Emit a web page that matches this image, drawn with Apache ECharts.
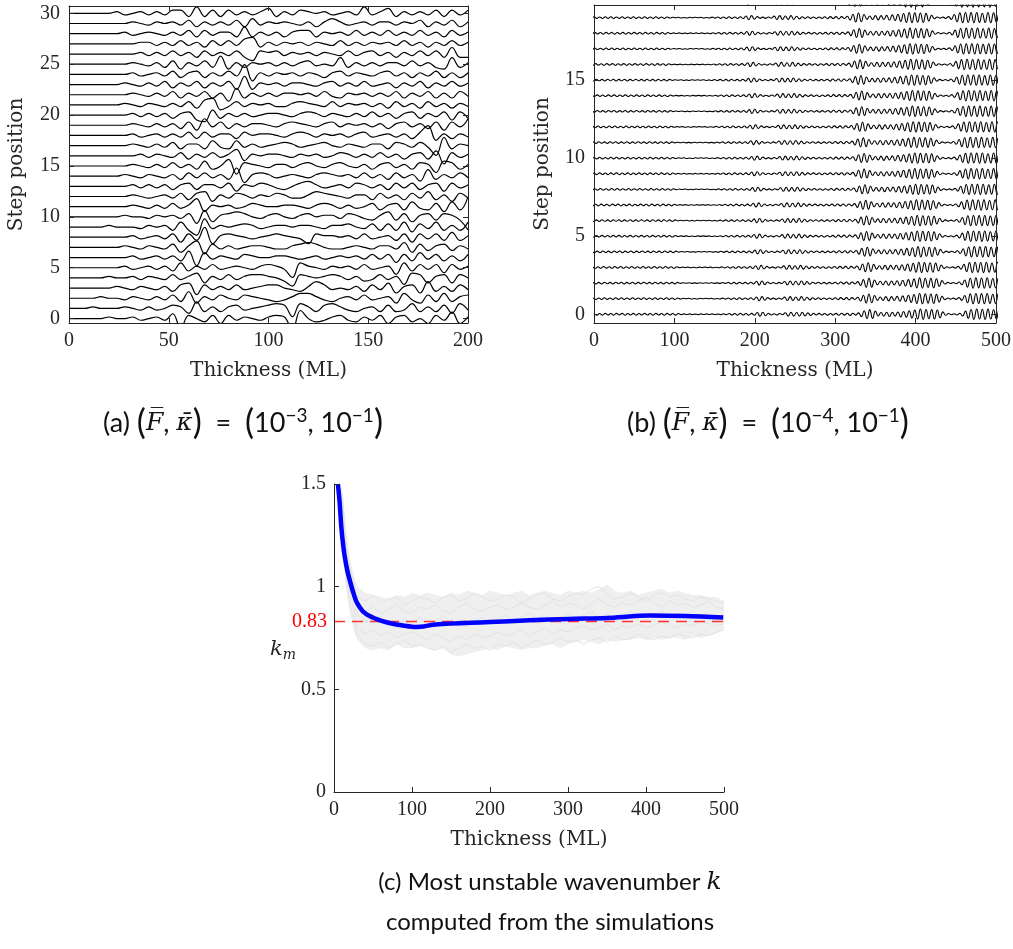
<!DOCTYPE html>
<html><head><meta charset="utf-8">
<script src="https://cdn.jsdelivr.net/npm/echarts@6/dist/echarts.min.js"></script>
<style>html,body{margin:0;padding:0;background:#fff}#c{width:1013px;height:949px}</style>
</head><body><div id="c"></div>
<script>
// ---------- Panel (a): step deviations, one sample every 4 ML (0..200), unit 0.16 step ----------
const aStep = 4, aUnit = 0.16;
const a00 = [0,0,0,0,0,1,0,0,1,-1, 0,1,-1,3,-6,2,0,-2,2,-3, 2,-1,1,0,-1,1,2,1,-7,5, 0,-2,-1,1,2,-1,-2,1,-1,2, -3,1,2,-2,0,-3,2,-1,4,-3, 1];
const a01 = [0,0,0,1,0,0,0,1,0,-1, 1,-1,0,2,1,-3,4,-2,1,-2, 1,2,-1,0,1,2,3,2,-5,3, 1,-2,2,3,1,-1,-2,0,1,-2, 2,-2,-1,3,-2,1,-2,2,-3,3, -1];
const a02 = [0,0,0,0,1,0,0,-1,1,0, -1,1,-1,2,-2,4,-3,1,-1,2, 0,-1,2,1,0,-1,-2,-1,1,3, 3,1,-1,-2,0,1,-1,2,-1,0, 1,-3,3,-1,-3,2,-2,3,-2,1, 2];
const a03 = [0,0,0,0,0,0,1,0,-1,1, 0,-1,1,-2,2,3,-4,2,-1,1, -1,2,-1,0,1,2,2,0,-1,-2, 1,4,2,-1,0,-1,1,-2,2,-1, 3,-3,1,2,-3,4,-2,1,-2,2, -1];
const a04 = [0,0,0,0,0,1,0,0,1,-1, 1,0,-1,2,-1,1,3,-3,1,-1, 2,-1,1,2,2,1,0,-2,-5,2, 1,0,1,2,1,-1,1,-2,-1,2, -1,1,-4,3,2,-3,1,2,-3,2, 0];
const a05 = [0,0,0,0,0,0,0,1,-1,0, 1,-1,1,-2,3,-2,1,-1,2,-1, 0,1,0,-1,1,2,1,-1,-6,3, 1,0,-1,1,0,1,-1,2,-1,0, 1,-4,3,-2,2,-1,2,-3,2,-1, 1];
const a06 = [0,0,0,0,0,0,0,0,1,-1, 0,1,-1,1,-2,4,-5,3,-1,1, 0,-1,2,1,0,0,1,1,0,-1, 0,1,-1,0,1,0,1,-1,2,-1, 2,-3,2,-2,3,-1,2,-2,1,-2, 2];
const a07 = [0,0,0,0,0,0,0,1,0,-1, 1,0,-1,2,-3,1,4,-4,2,-1, 1,-1,0,1,1,0,-1,-1,1,2, 3,2,0,-1,-1,0,1,0,-1,1, 1,-1,3,-3,2,-2,1,2,-2,1, -1];
const a08 = [0,0,0,0,0,0,0,0,1,-1, 0,1,-1,2,-3,2,-2,6,-4,1, 2,1,0,-1,0,1,2,1,0,-1, -4,2,1,1,0,1,-1,2,-1,0, 1,-2,2,-3,2,-1,2,-2,3,-2, 1];
const a09 = [0,0,0,0,0,1,0,0,0,-1, 1,0,1,-2,3,-2,-5,5,-1,1, 0,1,2,1,-1,0,1,1,0,1, 1,0,-1,1,1,2,0,-1,2,-2, 2,-2,3,-3,2,-1,3,-2,1,-2, 3];
const a10 = [0,0,0,0,0,0,0,1,0,0, -1,1,0,1,-1,2,-4,4,-3,1, 2,3,2,0,-1,1,2,0,-1,1, 2,0,1,1,-1,2,1,-1,-2,1, 3,-2,2,-3,1,2,-2,2,1,-2, -8];
const a11 = [0,0,0,0,0,0,0,0,1,0, -1,1,-1,2,-1,1,5,-3,1,0, 1,-1,0,2,1,0,0,1,1,0, -1,1,2,1,-1,1,-1,0,2,-2, 1,2,-2,3,-1,-2,2,-3,3,-2, 6];
const a12 = [0,0,0,0,0,0,0,0,1,0, -1,0,1,-1,2,-2,2,3,-3,1, -1,2,1,-1,1,0,2,1,-1,-1, 1,3,2,1,0,-1,1,1,-2,2, -1,1,-2,2,-1,3,-2,1,-3,2, -1];
const a13 = [0,0,0,0,0,0,0,0,1,-1, 1,-1,1,-2,1,2,-2,1,1,-1, 2,-3,1,0,2,1,-1,-2,0,2, 3,1,-1,0,1,-1,2,1,-1,1, -2,2,-1,2,-2,1,2,-3,2,-1, 1];
const a14 = [0,0,0,0,0,0,0,1,0,-1, 1,0,-1,1,-2,2,-1,2,-1,1, -2,5,-4,1,2,1,-1,0,1,0, -1,1,2,1,0,1,-1,2,-1,1, -2,2,-1,1,-3,4,-2,1,-1,2, -1];
const a15 = [0,0,0,0,0,0,0,0,1,0, -1,1,-1,2,-1,1,-2,3,-2,0, 4,-5,2,1,0,-1,1,1,-1,1, 2,0,-1,1,2,0,-1,1,-2,1, 2,-1,1,-2,2,1,-4,3,2,-2, 1];
const a16 = [0,0,0,0,0,0,0,0,0,1, -1,1,0,-1,2,-2,1,-1,2,-1, 1,4,-3,1,0,1,1,0,-1,1, 0,1,-1,0,2,1,-1,1,-1,2, -1,1,-2,1,2,-2,3,-5,2,-1, 1];
const a17 = [0,0,0,0,0,0,0,0,1,0, -1,1,-1,2,-2,1,1,-2,3,-1, -2,3,-1,1,-1,0,1,2,1,-1, 0,1,2,0,-1,1,0,-1,1,1, -2,2,1,-1,2,-1,-6,5,-2,1, 0];
const a18 = [0,0,0,0,0,0,0,0,1,-1, 0,1,-1,1,-1,2,-2,2,-1,1, 1,-2,2,0,1,1,0,-1,1,2, 1,-1,1,0,1,-1,1,2,-1,0, 1,-1,1,-2,2,6,-3,1,-2,1, -1];
const a19 = [0,0,0,0,0,0,0,0,1,0, -1,1,-1,1,-2,2,-3,4,-1,2, -2,1,-1,1,1,0,-1,1,2,1, 0,-1,1,2,-1,1,0,1,-1,1, -2,1,2,-1,1,-2,2,-3,2,-1, 4];
const a20 = [0,0,0,0,0,0,0,0,1,-1, 1,-1,1,-2,1,2,-3,-4,3,-2, 1,-1,1,-1,0,1,1,0,-1,1, 2,1,-1,1,0,-1,1,-1,2,-1, 1,-2,1,2,-2,1,-1,2,-3,2, -2];
const a21 = [0,0,0,0,0,0,0,1,0,-1, 1,0,-1,1,-1,2,-2,3,4,-3, -1,2,-1,1,0,1,-1,-1,1,2, 1,0,-1,2,-1,1,0,1,-1,1, -2,2,-1,1,-2,2,-1,1,-2,1, -1];
const a22 = [0,0,0,0,0,0,0,0,1,0, -1,1,-1,2,-2,1,-1,2,-2,1, -4,4,-2,1,-1,1,-1,1,1,0, 1,-1,2,-1,-2,1,0,1,-1,1, -1,2,-2,1,-1,2,-2,1,-2,2, -1];
const a23 = [0,0,0,0,0,0,0,1,0,-1, 1,-1,2,-2,1,-1,2,-2,1,-1, 2,-3,5,-3,1,0,1,-1,1,1, 0,-1,1,2,-1,1,-1,2,-1,0, 1,-2,1,-1,2,-2,1,-1,2,-1, 1];
const a24 = [0,0,0,0,0,0,0,0,1,-1, 0,1,-1,2,-2,1,2,-2,1,-1, 2,-1,6,-4,1,-1,1,0,1,-1, 1,0,-2,1,2,-1,1,0,-1,1, 2,-1,1,-2,1,-1,2,-2,1,-2, 1];
const a25 = [0,0,0,0,0,0,0,0,1,0, -1,1,-2,2,-3,1,-1,2,-2,5, -3,1,-2,1,0,1,-1,1,-1,1, 2,-1,0,-1,4,-2,1,-1,1,-1, 1,1,-1,2,-1,1,-2,-3,4,-2, 1];
const a26 = [0,0,0,0,0,0,0,0,0,1, -1,1,-1,2,-1,1,-2,2,-1,1, -1,2,-2,-4,2,1,2,-1,1,0, 1,-1,1,0,-1,2,-1,1,2,-1, 1,-2,1,-1,2,-1,2,-2,4,-2, -2];
const a27 = [0,0,0,0,0,0,0,0,0,1, 1,-1,1,-1,2,-1,1,-2,2,-1, 2,-1,3,4,-2,1,-1,1,0,1, -1,1,0,-1,2,-1,1,-1,1,0, 1,-1,2,-1,1,-2,1,-1,2,-1, 1];
const a28 = [0,0,0,0,0,0,0,1,-1,0, 1,0,-1,1,-1,2,-2,2,-1,1, 1,-2,4,-2,1,-1,1,-2,1,2, 2,-2,1,0,1,-1,2,-1,1,-1, 2,-1,1,-1,2,-1,1,-2,2,-1, 1];
const a29 = [0,0,0,0,0,0,0,0,1,0, -1,1,0,1,-1,2,-2,1,-1,1, -1,2,-2,3,-1,1,0,1,0,-1, 1,-2,1,3,1,-1,0,1,-1,1, 1,-1,1,0,2,-2,1,-1,2,-2, 1];
const a30 = [0,0,0,0,0,0,1,-1,0,1, -1,1,-1,2,2,-2,4,-2,2,-2, 2,-1,1,-1,1,3,-2,1,-1,2, 1,0,1,-1,0,1,-1,4,-1,1, 3,-2,1,-1,1,-1,2,-2,2,-1, 2];
const aLines = [a00,a01,a02,a03,a04,a05,a06,a07,a08,a09,a10,a11,a12,a13,a14,a15,a16,a17,a18,a19,a20,a21,a22,a23,a24,a25,a26,a27,a28,a29,a30];
const aXTicks = [0,50,100,150,200];
const aYTicks = [0,5,10,15,20,25,30];

// ---------- Panel (b): wave extremes every 3.5 ML (unit 0.011 step), per-line shift in ML ----------
const bStep = 3.5, bUnit = 0.011;
const bWave = [4,-5,4,-5,5,-4,4,-5,5,-4, 5,-5,4,-4,5,-5,4,-4,5,-4, 4,-5,5,-4,4,-5,5,-4,4,-5,
  4,-2,2,-1,2,-2,1,-2,2,-1, 2,-1,2,-2,1,-2,3,-3,4,-4, 4,-5,5,-4,4,-5,5,-6,10,-12,
  12,-9,6,-4,3,-4,4,-3,9,-11, 12,-11,10,-11,12,-10,8,-7,5,-4, 5,-4,4,-5,4,-4,5,-6,6,-5,
  6,-7,6,-5,8,-14,20,-25,27,-24, 18,-10,10,-11,12,-13,12,-11,13,-15, 16,-18,20,-22,24,-28,30,-30,28,-26,
  27,-28,25,-20,14,-6,4,-3,3,-4, 6,-10,18,-24,28,-30,30,-28,29,-30, 30,-28,26,-28,30,-30,28,-26,26,-24, 24];
const bShift = [0,-1,-1,-2,-3,-4,-4,-5,-6,-7,-7,-8,-9,-10,-10,-11,-12,-13,-13,-14,-15];
const bXTicks = [0,100,200,300,400,500];
const bYTicks = [0,5,10,15];

// ---------- Panel (c) ----------
const cBlueX = [5,7,9.4,11.5,13.7,17,20,24,28.6,33,37,45,54,62,71,80,90,100,106,115,127,148,175,200,250,302,350,405,450,499];
const cBlueY = [1.5,1.42,1.29,1.21,1.148,1.08,1.034,0.98,0.928,0.9,0.88,0.858,0.843,0.832,0.823,0.816,0.81,0.805,0.804,0.806,0.815,0.82,0.824,0.828,0.836,0.843,0.848,0.859,0.857,0.85];
const cGrayX = [10,15,20,25,30,40,50,60,70,80,90,100,110,120,130,140,150,160,170,180,190,200,210,220,230,240,250,260,270,280,290,300,310,320,330,340,350,360,370,380,390,400,410,420,430,440,450,460,470,480,490,500];
const cBandUpper = [1.5,1.3,1.15,1.06, 1.0,0.97,0.96,0.95,0.94,0.96,0.95,0.97,0.96,0.97, 0.96,0.95,0.97,0.96,0.98,0.97,0.96,0.98,0.97,0.96, 0.97,0.98,0.96,0.97,0.98,0.97,0.96,0.98,0.97,0.98, 0.97,0.99,1.01,0.98,0.97,0.98,0.96,0.97,0.98,0.99, 0.97,0.98,0.97,0.96,0.96,0.95,0.95,0.93];
const cBandLower = [1.25,1.0,0.88,0.79, 0.74,0.7,0.69,0.7,0.69,0.72,0.7,0.7,0.71,0.7, 0.69,0.7,0.67,0.66,0.67,0.68,0.69,0.7,0.69,0.71, 0.7,0.69,0.7,0.7,0.71,0.72,0.7,0.72,0.73,0.74, 0.73,0.72,0.74,0.73,0.74,0.74,0.75,0.74,0.75,0.74, 0.75,0.75,0.74,0.76,0.75,0.76,0.77,0.79];
const cGray1 = [1.42,1.2,1.1,1.02, 0.95,0.93,0.96,0.92,0.94,0.95,0.91,0.93,0.95,0.94, 0.92,0.95,0.96,0.93,0.94,0.97,0.95,0.93,0.94,0.96, 0.95,0.92,0.94,0.96,0.97,0.94,0.93,0.95,0.97,0.96, 0.99,1.0,0.96,0.94,0.95,0.97,0.95,0.93,0.96,0.97, 0.95,0.96,0.94,0.93,0.95,0.94,0.93,0.92];
const cGray2 = [1.3,1.05,0.92,0.84, 0.76,0.72,0.71,0.73,0.7,0.72,0.74,0.71,0.72,0.7, 0.69,0.71,0.68,0.7,0.72,0.7,0.71,0.69,0.72,0.71, 0.73,0.7,0.72,0.74,0.72,0.73,0.75,0.73,0.74,0.72, 0.74,0.75,0.73,0.76,0.74,0.75,0.77,0.75,0.74,0.76, 0.75,0.77,0.76,0.75,0.77,0.76,0.78,0.79];
const cGray3 = [1.45,1.15,1.03,0.96, 0.9,0.88,0.9,0.87,0.89,0.91,0.88,0.87,0.9,0.89, 0.91,0.88,0.87,0.9,0.92,0.89,0.88,0.9,0.91,0.89, 0.9,0.92,0.9,0.89,0.91,0.93,0.9,0.92,0.91,0.89, 0.92,0.94,0.91,0.9,0.92,0.91,0.93,0.95,0.92,0.9, 0.93,0.91,0.92,0.9,0.91,0.93,0.9,0.89];
const cGray4 = [1.35,1.1,0.98,0.9, 0.8,0.77,0.79,0.76,0.78,0.75,0.77,0.78,0.76,0.74, 0.77,0.75,0.73,0.76,0.74,0.77,0.75,0.76,0.78,0.76, 0.77,0.79,0.76,0.78,0.8,0.77,0.79,0.78,0.8,0.81, 0.79,0.8,0.82,0.79,0.81,0.8,0.82,0.8,0.81,0.83, 0.81,0.8,0.82,0.81,0.83,0.82,0.81,0.82];
const cGray5 = [1.48,1.25,1.08,0.99, 0.86,0.84,0.82,0.85,0.83,0.8,0.84,0.82,0.85,0.81, 0.83,0.86,0.82,0.84,0.8,0.83,0.85,0.82,0.84,0.86, 0.83,0.85,0.87,0.84,0.86,0.83,0.85,0.87,0.84,0.86, 0.88,0.85,0.87,0.84,0.86,0.88,0.85,0.87,0.86,0.88, 0.85,0.87,0.86,0.88,0.86,0.87,0.85,0.86];
const cGrayLines = [cGray1,cGray2,cGray3,cGray4,cGray5];
const cRedLevel = 0.83;
const cRedX = [0,500];
const cXTicks = [0,100,200,300,400,500];

// ---------- styles ----------
const INK = '#262626';
const tickFont = {fontFamily:'Liberation Serif', fontSize:20, color:INK};
const nameFont = {fontFamily:'DejaVu Serif', fontSize:20, color:INK};
const axLine = {show:true, onZero:false, lineStyle:{color:INK, width:1}};

function xAx(grid, min, max, ticks, pos, labels, name) {
  return {type:'value', gridIndex:grid, position:pos, min:min, max:max, z:10,
    axisLine:axLine, splitLine:{show:false},
    axisTick:{show:true, inside:true, length:5, customValues:ticks, lineStyle:{color:INK}},
    axisLabel:{show:labels, customValues:ticks, margin:8, ...tickFont, formatter:v=>String(v)},
    name: name||'', nameLocation:'middle', nameGap:38, nameTextStyle:nameFont};
}
function yAx(grid, min, max, ticks, pos, labels, name, gap) {
  return {type:'value', gridIndex:grid, position:pos, min:min, max:max, z:10,
    axisLine:axLine, splitLine:{show:false},
    axisTick:{show:true, inside:true, length:5, customValues:ticks, lineStyle:{color:INK}},
    axisLabel:{show:labels, customValues:ticks, margin:9, ...tickFont, formatter:v=>String(v)},
    name: name||'', nameLocation:'middle', nameGap:gap||40, nameRotate:90, nameTextStyle:nameFont};
}

const series = [];
aLines.forEach((dev, k) => {
  series.push({type:'line', xAxisIndex:0, yAxisIndex:0, symbol:'none', smooth:0.4, silent:true, animation:false,
    clip:true, lineStyle:{color:'#000', width:1.2},
    data: dev.map((v, i) => [i*aStep, k + v*aUnit])});
});
bShift.forEach((s, k) => {
  series.push({type:'line', xAxisIndex:2, yAxisIndex:2, symbol:'none', smooth:0.5, silent:true, animation:false,
    clip:true, lineStyle:{color:'#000', width:1.1},
    data: bWave.map((v, i) => [i*bStep + s, k + v*bUnit])});
});
// band of simulations (c): light-grey area under the upper envelope, white area under the lower envelope
series.push({type:'line', xAxisIndex:4, yAxisIndex:4, symbol:'none', silent:true, animation:false,
  lineStyle:{width:0, opacity:0}, areaStyle:{color:'#efefef', opacity:1, origin:'start'},
  data: cGrayX.map((x,i)=>[x, cBandUpper[i]]), z:1});
series.push({type:'line', xAxisIndex:4, yAxisIndex:4, symbol:'none', silent:true, animation:false,
  lineStyle:{width:0, opacity:0}, areaStyle:{color:'#ffffff', opacity:1, origin:'start'},
  data: cGrayX.map((x,i)=>[x, cBandLower[i]]), z:2});
cGrayLines.forEach((g) => {
  series.push({type:'line', xAxisIndex:4, yAxisIndex:4, symbol:'none', silent:true, animation:false,
    lineStyle:{color:'#e3e3e3', width:1}, data: cGrayX.map((x,i)=>[x, g[i]]), z:3});
});
series.push({type:'line', xAxisIndex:4, yAxisIndex:4, symbol:'none', silent:true, animation:false,
  color:'#ff3030', lineStyle:{color:'#ff3030', width:1.5, type:[11,7]},
  data: cRedX.map(x=>[x, cRedLevel]), z:4,
  markPoint:{symbol:'circle', symbolSize:0, silent:true, animation:false,
    label:{show:true, position:'left', distance:7, formatter:String(cRedLevel), color:'#ff0000',
      fontFamily:'Liberation Serif', fontSize:20},
    data:[{coord:[cRedX[0], cRedLevel]}]}});
series.push({type:'line', xAxisIndex:4, yAxisIndex:4, symbol:'none', silent:true, animation:false, smooth:0.3,
  clip:true, lineStyle:{color:'#0000ff', width:4.5}, data: cBlueX.map((x,i)=>[x, cBlueY[i]]), z:5});

const capFont = 'Lato';
const capRich = {
  t:{fontFamily:capFont, fontSize:27, fill:'#111', color:'#111'},
  c:{fontFamily:capFont, fontSize:24, fill:'#111', color:'#111'},
  p:{fontFamily:capFont, fontSize:34, fill:'#111', color:'#111'},
  i:{fontFamily:'DejaVu Serif', fontStyle:'italic', fontSize:25, fill:'#111', color:'#111'},
  s:{fontFamily:capFont, fontSize:19, fill:'#111', color:'#111', verticalAlign:'top'}
};
function capText(x, y, text) {
  return {type:'text', x:x, y:y, style:{text:text, rich:capRich, align:'center', verticalAlign:'middle',
    fontFamily:capFont, fontSize:25, fill:'#111'}};
}

const option = {
  animation:false,
  backgroundColor:'#fff',
  grid:[
    {left:69, top:6, width:399, height:317, containLabel:false, outerBoundsMode:'none', show:false},
    {left:594, top:5, width:402, height:318, containLabel:false, outerBoundsMode:'none', show:false},
    {left:334, top:484, width:390, height:308, containLabel:false, outerBoundsMode:'none', show:false}
  ],
  xAxis:[
    xAx(0, 0, 200, aXTicks, 'bottom', true, 'Thickness (ML)'),
    xAx(0, 0, 200, aXTicks, 'top', false, ''),
    xAx(1, 0, 500, bXTicks, 'bottom', true, 'Thickness (ML)'),
    xAx(1, 0, 500, bXTicks, 'top', false, ''),
    xAx(2, 0, 500, cXTicks, 'bottom', true, 'Thickness (ML)')
  ],
  yAxis:[
    yAx(0, -0.43, 30.72, aYTicks, 'left', true, 'Step position', 42),
    yAx(0, -0.43, 30.72, aYTicks, 'right', false, ''),
    yAx(1, -0.56, 19.81, bYTicks, 'left', true, 'Step position', 41),
    yAx(1, -0.56, 19.81, bYTicks, 'right', false, ''),
    {type:'value', gridIndex:2, min:0, max:1.5, interval:0.5, position:'left', z:10,
      axisLine:axLine, splitLine:{show:false},
      axisTick:{show:true, inside:true, length:5, lineStyle:{color:INK}},
      axisLabel:{margin:8, ...tickFont, formatter:v=>String(v)},
      name:'{k|k}{m|m}', nameLocation:'middle', nameRotate:0, nameGap:37,
      nameTextStyle:{padding:[24,0,0,0], rich:{
        k:{fontFamily:'DejaVu Serif', fontStyle:'italic', fontSize:21, color:INK},
        m:{fontFamily:'DejaVu Serif', fontStyle:'italic', fontSize:14, color:INK, verticalAlign:'bottom', padding:[10,0,0,0]}}}}
  ],
  series: series,
  graphic:[
    capText(243, 423, '{t|(a) }{p|(}{i|F\u0305}{t|, }{i|\u03BA\u0304}{p|)}{t|  =  }{p|(}{t|10}{s|\u22123}{t|, 10}{s|\u22121}{p|)}'),
    capText(768, 423, '{t|(b) }{p|(}{i|F\u0305}{t|, }{i|\u03BA\u0304}{p|)}{t|  =  }{p|(}{t|10}{s|\u22124}{t|, 10}{s|\u22121}{p|)}'),
    capText(550, 882, '{c|(c) Most unstable wavenumber }{i|k}'),
    capText(550, 922, '{c|computed from the simulations}')
  ]
};
const chart = echarts.init(document.getElementById('c'), null, {renderer:'canvas'});
chart.setOption(option);
</script></body></html>
